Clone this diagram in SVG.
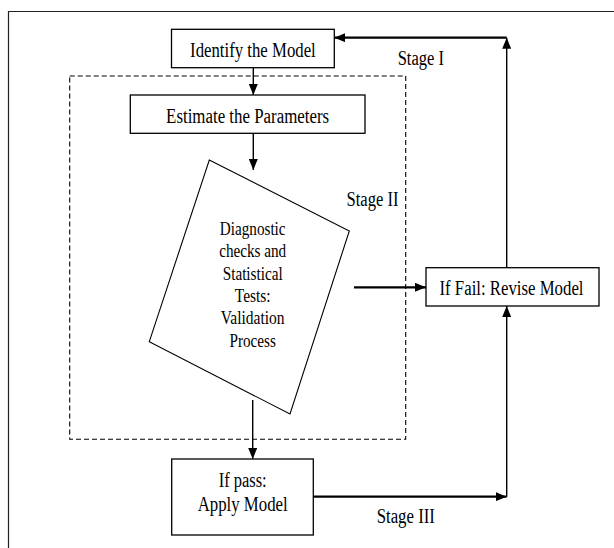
<svg xmlns="http://www.w3.org/2000/svg" width="614" height="548" viewBox="0 0 614 548">
  <style>
    .box { fill: #fff; stroke: #000; stroke-width: 1.3; }
    .shape { fill: #fff; stroke: #000; stroke-width: 1.1; }
    .frame { fill: none; stroke: #222; stroke-width: 1.2; }
    .dash { fill: none; stroke: #000; stroke-width: 1.1; stroke-dasharray: 5 3; }
    .wire { fill: none; stroke: #000; stroke-width: 1.4; }
    .wire-bold { fill: none; stroke: #000; stroke-width: 2.2; }
    text { font-family: "Liberation Serif", "Times New Roman", serif; font-size: 20px; fill: #000; text-anchor: middle; }
    .small { font-size: 19px; }
  </style>
  <defs>
    <marker id="arrow" viewBox="0 0 11 9" refX="11" refY="4.5" markerWidth="11" markerHeight="9" markerUnits="userSpaceOnUse" orient="auto">
      <path d="M0,0 L11,4.5 L0,9 z" fill="#000"/>
    </marker>
  </defs>

  <rect x="0" y="0" width="614" height="548" fill="#fff"/>

  <!-- outer frame -->
  <path class="frame" d="M8.5,560 V11.5 H620"/>

  <!-- stage II boundary -->
  <rect id="stage2-boundary" class="dash" x="69.7" y="76" width="336" height="363.3"/>

  <!-- connectors -->
  <g id="connectors">
    <path class="wire" d="M253.3,67.7 V95" marker-end="url(#arrow)"/>
    <path class="wire" d="M253.3,133.3 V170" marker-end="url(#arrow)"/>
    <path class="wire-bold" d="M354,287.3 H426" marker-end="url(#arrow)"/>
    <path class="wire" d="M252.7,400 V459" marker-end="url(#arrow)"/>
    <path class="wire-bold" d="M313.3,496.7 H506.7" marker-end="url(#arrow)"/>
    <path class="wire" d="M506.7,496.7 V306" marker-end="url(#arrow)"/>
    <path class="wire" d="M506.7,267.7 V37.7" marker-end="url(#arrow)"/>
    <path class="wire-bold" d="M506.7,37.7 H334.3" marker-end="url(#arrow)"/>
  </g>

  <g id="identify">
    <rect class="box" x="171.5" y="29.3" width="162.8" height="38.4"/>
    <text x="252.9" y="56.5" textLength="125.7" lengthAdjust="spacingAndGlyphs">Identify the Model</text>
  </g>

  <g id="estimate">
    <rect class="box" x="130.3" y="95" width="234.7" height="38.3"/>
    <text x="247.6" y="122.5" textLength="163" lengthAdjust="spacingAndGlyphs">Estimate the Parameters</text>
  </g>

  <g id="diagnostics">
    <polygon class="shape" points="209.3,160 349.3,231 290,414 149.3,341.7"/>
    <text class="small" x="252.7" y="235" textLength="65.7" lengthAdjust="spacingAndGlyphs">Diagnostic</text>
    <text class="small" x="252.7" y="257.3" textLength="67" lengthAdjust="spacingAndGlyphs">checks and</text>
    <text class="small" x="252.7" y="279.6" textLength="60" lengthAdjust="spacingAndGlyphs">Statistical</text>
    <text class="small" x="252.7" y="301.9" textLength="35.7" lengthAdjust="spacingAndGlyphs">Tests:</text>
    <text class="small" x="252.7" y="324.2" textLength="63.7" lengthAdjust="spacingAndGlyphs">Validation</text>
    <text class="small" x="252.7" y="346.5" textLength="46.3" lengthAdjust="spacingAndGlyphs">Process</text>
  </g>

  <g id="revise">
    <rect class="box" x="426" y="267.7" width="173" height="38.3"/>
    <text x="511.5" y="294.5" textLength="144" lengthAdjust="spacingAndGlyphs">If Fail: Revise Model</text>
  </g>

  <g id="apply">
    <rect class="box" x="171.7" y="459" width="141.6" height="76"/>
    <text x="242.7" y="487.3" textLength="48" lengthAdjust="spacingAndGlyphs">If pass:</text>
    <text x="242.7" y="511" textLength="90" lengthAdjust="spacingAndGlyphs">Apply Model</text>
  </g>

  <!-- stage labels -->
  <g id="labels">
    <text x="420.8" y="64.5" textLength="46.3" lengthAdjust="spacingAndGlyphs">Stage I</text>
    <text x="372.5" y="206" textLength="52" lengthAdjust="spacingAndGlyphs">Stage II</text>
    <text x="405.8" y="522.5" textLength="58.3" lengthAdjust="spacingAndGlyphs">Stage III</text>
  </g>
</svg>
